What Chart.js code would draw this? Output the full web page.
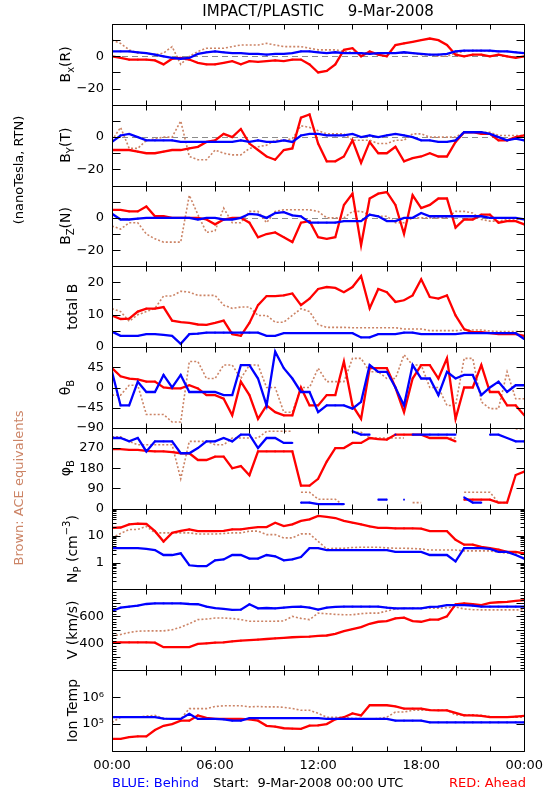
<!DOCTYPE html>
<html><head><meta charset="utf-8">
<script src="https://cdn.jsdelivr.net/npm/chart.js@4.4.1/dist/chart.umd.min.js"></script>
<style>html,body{margin:0;padding:0;background:#fff}#wrap{position:relative;width:550px;height:800px}canvas{display:block}</style>
</head><body>
<div id="wrap"><canvas id="c" width="550" height="800"></canvas></div>
<script>
// ---- time axis (hours from 9-Mar-2008 00:00 UTC) ----
const HOURS = [0,0.5,1,1.5,2,2.5,3,3.5,4,4.5,5,5.5,6,6.5,7,7.5,8,8.5,9,9.5,10,10.5,11,11.5,12,12.5,13,13.5,14,14.5,15,15.5,16,16.5,17,17.5,18,18.5,19,19.5,20,20.5,21,21.5,22,22.5,23,23.5,24];
const X_LABEL_HOURS = [0,6,12,18,24];
const X_LABELS = ['00:00','06:00','12:00','18:00','00:00'];
const X_TICK_HOURS = [0,2,4,6,8,10,12,14,16,18,20,22,24];

// ---- Bx (R) ----
const BX_BLUE  = [3,3,3,2.5,2,1,0,-1,-1.5,-1,1.5,2.5,3,2.5,2,2,1.5,1.5,1,1.5,1.5,2,3,3,2.5,2,2.5,2,2,2,1.5,2,2,2,2.5,2,1.5,1,1,1.5,3,3.5,3.5,3.5,3.5,3,3,2.5,2];
const BX_RED   = [0,-1,-2,-2,-2,-2.5,-5,-1.5,-1,-2,-4,-5,-5,-4,-3,-5,-3,-3.5,-3,-2.5,-3,-2,-2,-5,-10,-9,-5,4,5,0,3,1,0,7,8,9,10,11,10,7,1,0,1,1,0,1,0,-1,0];
const BX_BROWN = [10,8,4,2,2,1,2,6,-5,0,3,5,5,5,6,7,7,7,8,7,6,6,6,5,4,4,4,3,2.5,2,2,2,2,2,2,2,1,1,0,0,2,3,3.5,3.5,3,3,3,2.5,2];
// ---- By (T) ----
const BY_BLUE  = [-3,1,2,0,-2,-2,-2,-2,-3,-3,-3,-3,-3,-3,-3,-2,-3,-2,-3,-3,-2,-3,1,2,2,1,1,1,2,0,1,0,1,2,1,0,-2,-2,-3,-3,-2,3,3,3,2,0,-2,-1,-2];
const BY_RED   = [-8,-8,-8,-9,-10,-10,-9,-8,-8,-7,-6,-3,-2,2,0,5,-4,-8,-12,-14,-8,-7,12,14,-4,-15,-15,-12,-2,-16,-3,-10,-10,-6,-15,-13,-12,-10,-12,-12,-3,3,3,2,2,-2,-2,0,1];
const BY_BROWN = [-2,6,-7,-7,-2,-1,0,0,10,-12,-14,-14,-8,-10,-11,-11,-7,-6,-5,-2,-2,-1,7,6,4,2,2,2,-2,-2,-2,-4,-4,-2,-2,2,2,0,0,0,0,3,3,3,3,1,1,1,1];
// ---- Bz (N) ----
const BZ_BLUE  = [2.5,-1,-1,-0.5,0,0,0,0,0,0,-1,0,0,-1,-1,0,2.5,2,0,3,3.5,1.5,1,-3,-3,-3,-3,-2,-2,-2,2,1,-2,-2,0,0,3,1,1,1,1,1,1,1,0,0,0,0,-1];
const BZ_RED   = [5,5,4,4,7,1,1,0,0,0,0,-1,-4,-1,0,0,-3,-12,-10,-9,-12,-15,-3,-2,-12,-13,-12,8,15,-17,12,15,16,8,-10,14,6,8,12,12,-6,-1,-1,2,2,-3,-2,-2,-4];
const BZ_BROWN = [-5,-7,-3,-3,-10,-13,-15,-15,-15,14,2,-9,-8,6,-3,-3,4,4,-3,4,5,5,5,5,4,0,0,0,4,4,2,1,1,-3,-3,0,0,0,0,0,4,4,3,-1,-2,-2,-1,-1,-1];
// ---- total B ----
const TOTB_BLUE  = [4.8,3.5,3.5,3.5,4,4,3.8,3.5,1,4,4.2,4.5,4.5,4.5,4.5,4.5,4.5,4.5,3.5,3.5,4.3,4.3,4.3,4.3,4.3,4.3,4.3,4.3,4.3,3,3,4,4,4,4.5,4.5,4,4,4,4,4,4.3,4.3,4.3,4.3,4.3,4.3,4.3,2.5];
const TOTB_RED   = [9.8,8.7,8.8,11,11.9,11.9,12.4,8.2,7.7,7.5,7,6.9,7.5,8.2,4,3.5,7.5,13,15.8,15.8,16,16.6,13,15,18,18.6,18.3,17,18.6,22,12,18,17,14,14.5,16,21,15.5,15,16,9.8,5.6,4.6,4.6,4.3,4,4,4,3.5];
const TOTB_BROWN = [11.9,11,8,10,11,12,15.8,15.8,17.3,17,16,16,16,13,12,12.4,12.4,9.8,9.8,7.7,7.7,9.8,11.9,11,7,6.1,6.1,6.1,6,6,6,6,6,6,5.6,5.6,5.6,5.1,5.1,5.1,5.1,5.3,5.3,5.3,5,4.8,4.8,4.8,4.8];
// ---- theta B ----
const THETA_BLUE  = [35,-40,-40,13,-10,-10,28,0,28,-10,-10,-10,-10,-17,-17,50,50,20,-40,80,43,20,-10,-10,-55,-40,-40,-40,-47,-32,50,35,35,0,-40,50,20,20,-17,35,20,28,28,-17,0,13,-10,5,5];
const THETA_RED   = [43,25,20,18,13,13,0,-2,-2,5,-2,-17,-17,-25,-62,13,-17,-70,-40,-55,-62,-62,0,-40,-40,-17,-17,58,-40,-70,43,43,43,0,-55,20,50,50,20,65,-70,0,0,50,-10,-10,-40,-40,-62];
const THETA_BROWN = [-17,-17,5,5,-60,-60,-60,-77,-77,58,58,20,20,50,50,20,50,50,0,0,-55,-55,0,0,43,13,13,13,65,65,35,35,20,20,73,50,50,0,0,-40,-40,65,65,-32,-47,-47,35,-25,-25];
// ---- phi B ----
const PHI_BLUE  = [315,315,300,315,255,300,300,300,247,247,270,300,300,315,300,330,330,270,315,315,293,293,27,27,20,20,20,20,345,330,330,40,40,330,40,330,330,330,330,330,330,50,27,27,330,330,315,300,300];
const PHI_RED   = [265,265,262,262,258,255,255,252,247,247,217,217,232,232,180,190,149,255,255,255,255,255,103,103,133,210,270,270,293,293,315,310,308,330,330,330,330,315,315,315,300,40,40,40,40,27,27,150,165];
const PHI_BROWN = [320,320,300,285,285,285,285,285,133,300,300,300,285,285,315,315,315,315,345,345,345,345,73,73,42,42,42,12,340,340,315,315,315,315,315,27,27,315,315,315,315,73,73,73,73,27,27,355,355];
// ---- Np (cm^-3) ----
const NP_BLUE  = [3.4,3.4,3.4,3.4,3.2,2.9,1.9,1.9,2.2,0.79,0.73,0.73,1.2,1.3,1.9,1.9,1.4,1.4,1.9,1.7,1.2,1.3,1.6,3.4,3.4,2.9,2.9,2.9,2.9,2.9,2.9,2.9,2.9,2.5,2.5,2.5,2.5,1.9,1.9,1.9,1.1,3.4,3.4,3.4,3.2,2.5,2.5,1.9,1.4];
const NP_RED   = [19.5,20,26,27.7,27,14.6,6,12.6,15,16.9,14.6,14.6,14.6,15,16.9,16.9,19,20.7,20.7,30,22.6,26,35,40,54,50,45,35,30,26,22,19.5,19.5,18.4,18.4,18.4,18,14.6,14.6,14.6,7,4.6,4.6,3.8,3.4,3,2.5,2.5,2.2];
const NP_BROWN = [8.2,12,16.9,16.9,22,12.6,12.6,12.6,12.6,12.6,11.5,11.5,11.5,12,12.6,12.6,14.6,14.6,10.9,10.9,8.2,8.2,11.6,11.6,6.1,3.2,3.4,3.4,3.6,3.7,3.7,3.7,3.5,3.4,3.4,3.3,3.2,2.9,2.9,2.9,2.9,2.7,2.7,2.7,2.7,2.4,2.2,2.2,2.2];
// ---- V (km/s) ----
const V_BLUE  = [640,665,672,680,692,696,696,696,696,692,690,672,662,655,648,650,690,660,662,660,665,670,672,665,650,665,670,672,672,672,672,672,665,660,660,660,660,670,672,684,684,684,680,672,672,672,672,672,672];
const V_RED   = [407,407,407,407,407,405,371,371,371,371,395,400,405,407,415,420,424,428,432,436,440,445,448,450,455,458,470,490,505,520,545,560,564,585,590,565,560,576,576,600,690,696,690,684,700,705,708,715,720];
const V_BROWN = [455,465,480,490,492,492,492,500,520,545,576,580,588,588,584,576,564,564,564,564,566,600,585,576,624,620,615,612,612,620,624,624,640,655,660,660,660,660,660,665,670,655,650,648,648,648,648,648,648];
// ---- Ion Temp (K) ----
const TEMP_BLUE  = [180000,180000,180000,180000,180000,180000,160000,156000,156000,240000,156000,156000,156000,150000,134000,134000,165000,165000,165000,165000,165000,165000,165000,165000,165000,156000,156000,156000,156000,156000,156000,156000,156000,134000,134000,134000,134000,116000,116000,116000,116000,116000,116000,116000,116000,116000,116000,116000,116000];
const TEMP_RED   = [28000,28000,33000,35000,35000,60000,86000,100000,134000,134000,210000,170000,156000,156000,156000,156000,150000,134000,86000,80000,70000,68000,66000,87000,90000,100000,150000,180000,250000,210000,500000,500000,500000,450000,375000,375000,375000,330000,325000,325000,260000,210000,210000,200000,180000,180000,180000,190000,200000];
const TEMP_BROWN = [116000,180000,180000,180000,200000,210000,160000,156000,156000,375000,375000,375000,450000,478000,478000,478000,437000,450000,437000,437000,420000,380000,325000,325000,250000,180000,180000,180000,160000,160000,156000,160000,180000,280000,280000,325000,325000,325000,325000,325000,220000,220000,220000,210000,190000,180000,180000,180000,180000];

// ---- tick values / labels ----
const B_TICKS = [-30,-20,-10,0,10,20];       const B_LABELS = [0,-20];
const TOTB_TICKS = [0,5,10,15,20,25];        const TOTB_LABELS = [0,10,20];
const THETA_TICKS = [-90,-45,0,45,90];       const THETA_LABELS = [45,0,-45,-90];
const PHI_TICKS = [0,90,180,270,360];        const PHI_LABELS = [270,180,90,0];
const NP_TICKS = [0.1,1,10,100];             const NP_LABELS = [10,1];
const V_TICKS = [200,300,400,500,600,700,800]; const V_LABELS = [600,400];
const TEMP_TICKS = [1e4,1e5,1e6,1e7];        const TEMP_LABELS = [1e6,1e5]; const TEMP_LABEL_TEXT = ['10\u2076','10\u2075'];

const FONT = "'DejaVu Sans', sans-serif";
const C_BLUE = '#0000ff', C_RED = '#ff0000', C_BROWN = '#cc8466';

function logMinor(decades){ const out=[]; decades.forEach(d=>{ for(let m=2;m<=9;m++) out.push(m*d); }); return out; }
function linMinor(a,b,s){ const out=[]; for(let v=a; v<=b+1e-9; v+=s) out.push(v); return out; }
const dash = v => v<0 ? '\u2212'+(-v) : String(v);

const PANELS = [
  {id:'yBx', type:'linear', min:-30, max:20, ticks:B_TICKS, minor:[], labels:B_LABELS, fmt:dash, zero:true, series:[BX_BLUE,BX_RED,BX_BROWN], title:[['B'],['x','sub'],['(R)']], tx:66},
  {id:'yBy', type:'linear', min:-30, max:20, ticks:B_TICKS, minor:[], labels:B_LABELS, fmt:dash, zero:true, series:[BY_BLUE,BY_RED,BY_BROWN], title:[['B'],['Y','sub'],['(T)']], tx:66},
  {id:'yBz', type:'linear', min:-30, max:20, ticks:B_TICKS, minor:[], labels:B_LABELS, fmt:dash, zero:true, series:[BZ_BLUE,BZ_RED,BZ_BROWN], title:[['B'],['Z','sub'],['(N)']], tx:66},
  {id:'yTot', type:'linear', min:0, max:25, ticks:TOTB_TICKS, minor:[], labels:TOTB_LABELS, fmt:dash, series:[TOTB_BLUE,TOTB_RED,TOTB_BROWN], title:[['total B']], tx:73},
  {id:'yTh', type:'linear', min:-90, max:90, ticks:THETA_TICKS, minor:[], labels:THETA_LABELS, fmt:dash, series:[THETA_BLUE,THETA_RED,THETA_BROWN], title:[['\u03b8'],['B','sub']], tx:66},
  {id:'yPh', type:'linear', min:0, max:360, ticks:PHI_TICKS, minor:[], labels:PHI_LABELS, fmt:dash, wrap:true, series:[PHI_BLUE,PHI_RED,PHI_BROWN], title:[['\u03c6'],['B','sub']], tx:66},
  {id:'yNp', type:'logarithmic', min:0.1, max:100, ticks:NP_TICKS, minor:logMinor([0.1,1,10]), labels:NP_LABELS, fmt:v=>String(v), series:[NP_BLUE,NP_RED,NP_BROWN], title:[['N'],['P','sub'],[' (cm'],['\u22123','sup'],[')']], tx:73},
  {id:'yV', type:'linear', min:200, max:800, ticks:V_TICKS, minor:linMinor(200,800,20), labels:V_LABELS, fmt:v=>String(v), series:[V_BLUE,V_RED,V_BROWN], title:[['V (km/s)']], tx:73},
  {id:'yT', type:'logarithmic', min:1e4, max:1e7, ticks:TEMP_TICKS, minor:[], labels:TEMP_LABELS, fmt:v=>TEMP_LABEL_TEXT[TEMP_LABELS.indexOf(v)]||'', series:[TEMP_BLUE,TEMP_RED,TEMP_BROWN], title:[['Ion Temp']], tx:73}
];

const scales = {
  x: {
    type:'linear', min:0, max:24, position:'bottom', bounds:'data',
    grid:{display:false, drawTicks:false}, border:{display:false},
    afterBuildTicks: s => { s.ticks = X_LABEL_HOURS.map(v=>({value:v})); },
    ticks:{autoSkip:false, maxRotation:0, minRotation:0, padding:7, color:'#000', font:{family:FONT, size:13},
      callback:(v,i)=> X_LABELS[i]},
    afterFit: s => { s.height = 49; }
  }
};
const datasets = [];
PANELS.forEach((p,k)=>{
  scales[p.id] = {
    type:p.type, position:'left', stack:'panels', stackWeight:1, weight:20-k, min:p.min, max:p.max, bounds:'data',
    grid:{display:false, drawTicks:false}, border:{display:false},
    afterBuildTicks: s => { s.ticks = p.labels.map(v=>({value:v})); },
    ticks:{autoSkip:false, padding:8, color:'#000', font:{family:FONT, size:13}, callback:v=>p.fmt(v)},
    afterFit: s => { s.width = 112; }
  };
  const cols = [C_BLUE, C_RED, C_BROWN];
  p.series.forEach((arr,j)=>{
    const ds = {
      data: HOURS.map((h,i)=>({x:h, y:arr[i]})),
      xAxisID:'x', yAxisID:p.id,
      borderColor: cols[j], backgroundColor: cols[j],
      borderWidth: j===2 ? 1.6 : 2.3, pointRadius: j===2 ? 0 : 1.2, pointStyle:'rect', pointBorderWidth:0, tension:0,
      borderDash: j===2 ? [2,2] : [],
      order: j
    };
    if (p.wrap) ds.segment = { borderColor: c => Math.abs(c.p1.parsed.y - c.p0.parsed.y) > 180 ? 'rgba(0,0,0,0)' : undefined };
    datasets.push(ds);
  });
});

function drawRich(ctx, parts, cx, cy, size, color){
  ctx.save(); ctx.translate(cx, cy); ctx.rotate(-Math.PI/2);
  ctx.textBaseline='middle'; ctx.textAlign='left'; ctx.fillStyle=color||'#000';
  const small = Math.round(size*0.7);
  const widths = parts.map(pt=>{ ctx.font = (pt[1]?small:size)+'px '+FONT; return ctx.measureText(pt[0]).width; });
  const total = widths.reduce((a,b)=>a+b,0);
  let x = -total/2;
  parts.forEach((pt,i)=>{
    ctx.font = (pt[1]?small:size)+'px '+FONT;
    const dy = pt[1]==='sub' ? size*0.38 : (pt[1]==='sup' ? -size*0.42 : 0);
    ctx.fillText(pt[0], x, dy); x += widths[i];
  });
  ctx.restore();
}

const decor = {
  id:'decor',
  beforeDatasetsDraw(chart){
    const ctx = chart.ctx, {left,right} = chart.chartArea;
    ctx.save(); ctx.strokeStyle='#8c8c8c'; ctx.lineWidth=1; ctx.setLineDash([6,4]);
    PANELS.forEach(p=>{ if(!p.zero) return;
      const y = Math.round(chart.scales[p.id].getPixelForValue(0))+0.5;
      ctx.beginPath(); ctx.moveTo(left,y); ctx.lineTo(right,y); ctx.stroke(); });
    ctx.restore();
  },
  afterDatasetsDraw(chart){
    const ctx = chart.ctx, {left,right} = chart.chartArea, xs = chart.scales.x;
    ctx.save(); ctx.strokeStyle='#000'; ctx.lineWidth=1; ctx.setLineDash([]);
    PANELS.forEach(p=>{
      const s = chart.scales[p.id];
      const top = Math.round(s.top)+0.5, bot = Math.round(s.bottom)+0.5;
      const L = Math.round(left)+0.5, R = Math.round(right)+0.5;
      ctx.beginPath(); ctx.rect(L, top, R-L, bot-top); ctx.stroke();
      ctx.beginPath();
      X_TICK_HOURS.forEach(h=>{
        const x = Math.round(xs.getPixelForValue(h))+0.5; const len = 5;
        ctx.moveTo(x, top); ctx.lineTo(x, top+len);
        ctx.moveTo(x, bot); ctx.lineTo(x, bot-len);
      });
      p.ticks.forEach(v=>{
        const y = Math.round(s.getPixelForValue(v))+0.5;
        ctx.moveTo(L, y); ctx.lineTo(L+8, y); ctx.moveTo(R, y); ctx.lineTo(R-8, y);
      });
      p.minor.forEach(v=>{
        const y = Math.round(s.getPixelForValue(v))+0.5;
        ctx.moveTo(L, y); ctx.lineTo(L+4, y); ctx.moveTo(R, y); ctx.lineTo(R-4, y);
      });
      ctx.stroke();
      drawRich(ctx, p.title, p.tx, (s.top+s.bottom)/2, 14, '#000');
    });
    ctx.restore();
  },
  afterDraw(chart){
    const ctx = chart.ctx;
    ctx.save();
    ctx.fillStyle='#000'; ctx.font='15px '+FONT; ctx.textAlign='center'; ctx.textBaseline='middle';
    ctx.fillText('IMPACT/PLASTIC     9-Mar-2008', 318, 12);
    drawRich(ctx, [['(nanoTesla, RTN)']], 20, 170, 13, '#000');
    drawRich(ctx, [['Brown: ACE equivalents']], 20, 488, 13, C_BROWN);
    ctx.font='13px '+FONT; ctx.textBaseline='middle';
    ctx.textAlign='left'; ctx.fillStyle=C_BLUE; ctx.fillText('BLUE: Behind', 112, 784);
    ctx.fillStyle='#000'; ctx.fillText('Start:  9-Mar-2008 00:00 UTC', 213, 784);
    ctx.textAlign='right'; ctx.fillStyle=C_RED; ctx.fillText('RED: Ahead', 526, 784);
    ctx.restore();
  }
};

new Chart(document.getElementById('c'), {
  type:'line',
  data:{ datasets },
  options:{
    responsive:false, animation:false, devicePixelRatio:1,
    layout:{ padding:{ top:24, right:24, bottom:0, left:0 } },
    plugins:{ legend:{display:false}, tooltip:{enabled:false}, title:{display:false} },
    scales
  },
  plugins:[decor]
});
</script>
</body></html>
